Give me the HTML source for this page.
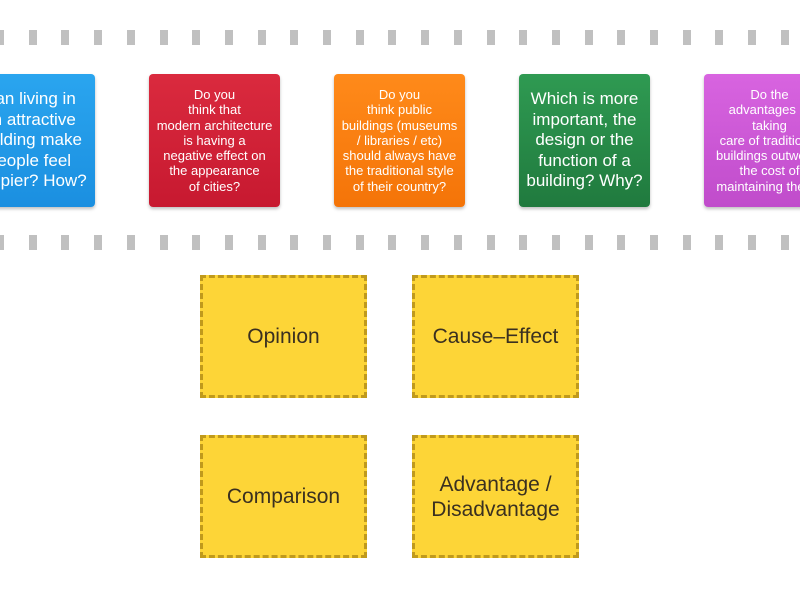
<!DOCTYPE html>
<html><head><style>
body{margin:0;width:800px;height:600px;background:#fff;position:relative;overflow:hidden;font-family:"Liberation Sans",sans-serif}
.d{position:absolute;width:8px;height:15px;background:#c0c0c0}
.card{position:absolute;top:74px;width:131px;height:133px;border-radius:4px;color:#fff;display:flex;align-items:center;justify-content:center;text-align:center;box-shadow:0 2px 3px rgba(0,0,0,.25)}
.s{font-size:13px;line-height:15.3px}
.l{font-size:17px;line-height:20.5px}
.y{position:absolute;width:161px;height:117px;background:#fdd537;border:3px dashed #c09a1c;display:flex;align-items:center;justify-content:center;text-align:center;color:#3a3020;font-size:21px;line-height:25px}
</style></head><body>
<div id="t"></div>
<script>
var h='';for(var i=0;i<25;i++){var x=-4+i*32.7;h+='<div class="d" style="left:'+x+'px;top:30px"></div><div class="d" style="left:'+x+'px;top:235px"></div>';}document.getElementById('t').innerHTML=h;
</script>
<div class="card l" style="left:-36px;background:linear-gradient(#2aa5ef,#1b8fe0)"><div style="white-space:nowrap">Can living in<br>an attractive<br>building make<br>people feel<br>happier? How?</div></div>
<div class="card s" style="left:149px;background:linear-gradient(#da2a3e,#c71930)"><div style="white-space:nowrap">Do you<br>think that<br>modern architecture<br>is having a<br>negative effect on<br>the appearance<br>of cities?</div></div>
<div class="card s" style="left:334px;background:linear-gradient(#ff8a1a,#f47408)"><div style="white-space:nowrap">Do you<br>think public<br>buildings (museums<br>/ libraries / etc)<br>should always have<br>the traditional style<br>of their country?</div></div>
<div class="card l" style="left:519px;background:linear-gradient(#2f9a52,#207a3e)"><div>Which is more<br>important, the<br>design or the<br>function of a<br>building? Why?</div></div>
<div class="card s" style="left:704px;background:linear-gradient(#d864e0,#c04ccb);justify-content:flex-start"><div style="white-space:nowrap;width:131px">Do the<br>advantages of<br>taking<br>care of traditional<br>buildings outweigh<br>the cost of<br>maintaining them?</div></div>
<div class="y" style="left:200px;top:275px">Opinion</div>
<div class="y" style="left:412px;top:275px">Cause–Effect</div>
<div class="y" style="left:200px;top:435px">Comparison</div>
<div class="y" style="left:412px;top:435px">Advantage /<br>Disadvantage</div>
</body></html>
